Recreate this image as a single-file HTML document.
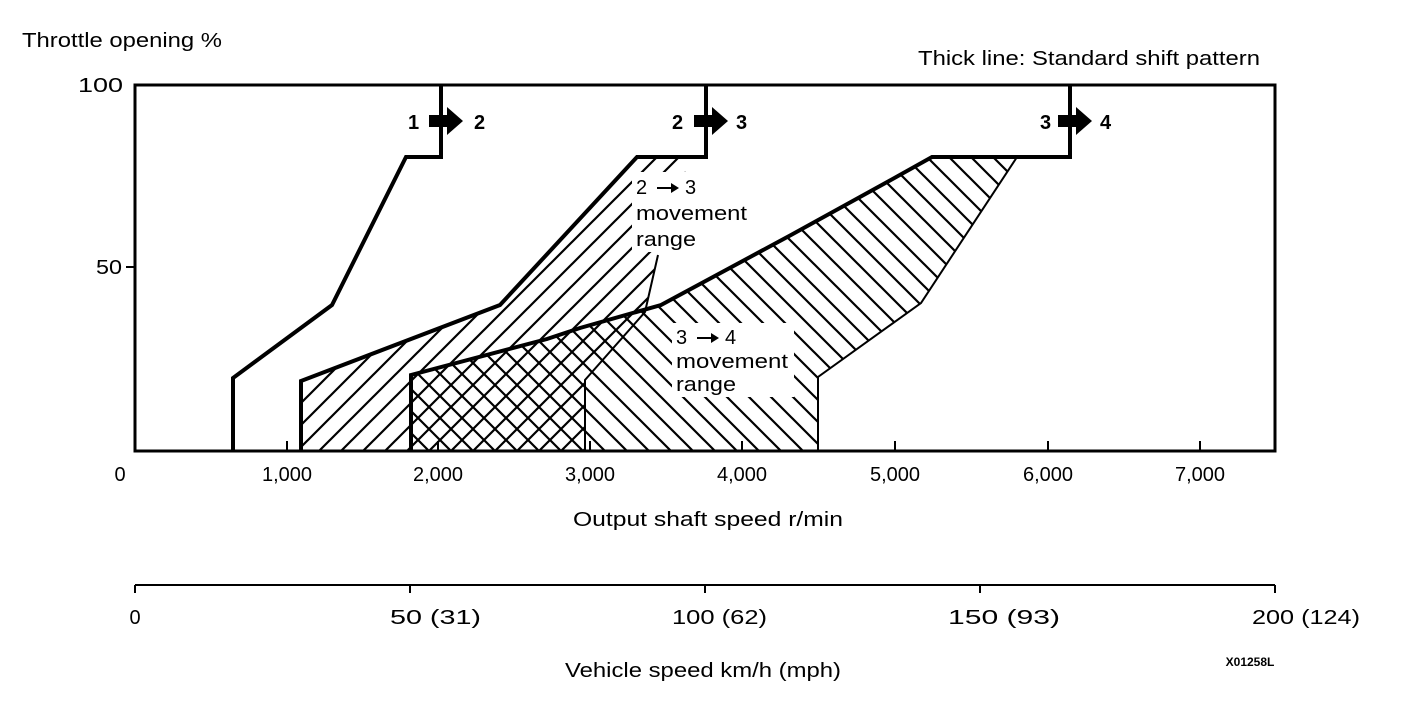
<!DOCTYPE html>
<html><head><style>
body{margin:0;background:#fff;}
svg text{font-family:"Liberation Sans",Arial,sans-serif;fill:#000;}
</style></head><body>
<svg width="1408" height="714" viewBox="0 0 1408 714" xmlns="http://www.w3.org/2000/svg">
<defs>
<pattern id="fw" patternUnits="userSpaceOnUse" width="22" height="22">
<path d="M-2,24 L24,-2 M-13,13 L13,-13 M9,35 L35,9" stroke="#000" stroke-width="2.2"/>
</pattern>
<pattern id="bw" patternUnits="userSpaceOnUse" width="22" height="22">
<path d="M-2,-2 L24,24 M-13,9 L13,35 M9,-13 L35,13" stroke="#000" stroke-width="2.2"/>
</pattern>
</defs>
<g font-size="20">
<text x="22" y="47" textLength="200" lengthAdjust="spacingAndGlyphs">Throttle opening %</text>
<text x="918" y="65" textLength="342" lengthAdjust="spacingAndGlyphs">Thick line: Standard shift pattern</text>
<text x="78" y="92" textLength="45" lengthAdjust="spacingAndGlyphs">100</text>
<text x="96" y="274" textLength="26" lengthAdjust="spacingAndGlyphs">50</text>
<text x="120" y="481" text-anchor="middle">0</text>
<text x="287" y="481" text-anchor="middle">1,000</text>
<text x="438" y="481" text-anchor="middle">2,000</text>
<text x="590" y="481" text-anchor="middle">3,000</text>
<text x="742" y="481" text-anchor="middle">4,000</text>
<text x="895" y="481" text-anchor="middle">5,000</text>
<text x="1048" y="481" text-anchor="middle">6,000</text>
<text x="1200" y="481" text-anchor="middle">7,000</text>
<text x="573" y="526" textLength="270" lengthAdjust="spacingAndGlyphs">Output shaft speed r/min</text>
<text x="135" y="624" text-anchor="middle">0</text>
<text x="390" y="624" textLength="91" lengthAdjust="spacingAndGlyphs">50 (31)</text>
<text x="672" y="624" textLength="95" lengthAdjust="spacingAndGlyphs">100 (62)</text>
<text x="948" y="624" textLength="112" lengthAdjust="spacingAndGlyphs">150 (93)</text>
<text x="1252" y="624" textLength="108" lengthAdjust="spacingAndGlyphs">200 (124)</text>
<text x="565" y="677" textLength="276" lengthAdjust="spacingAndGlyphs">Vehicle speed km/h (mph)</text>
</g>
<text x="1250" y="666" font-size="12" font-weight="bold" text-anchor="middle">X01258L</text>

<polygon points="301,451 301,381 500,305 637,157 690,157 658,255 645,312 585,380 585,451" fill="url(#fw)"/>
<polygon points="411,451 411,375 547,339 580,328 661,305 791,235 889,181 932,157 1017,157 921,303 818,377 818,451" fill="url(#bw)"/>
<rect x="632" y="172" width="120" height="80" fill="#fff"/>
<rect x="672" y="323" width="122" height="74" fill="#fff"/>
<polyline points="658,255 645,312 585,380 585,451" fill="none" stroke="#000" stroke-width="2"/>
<polyline points="1017,157 921,303 818,377 818,451" fill="none" stroke="#000" stroke-width="2"/>
<rect x="135" y="85" width="1140" height="366" fill="none" stroke="#000" stroke-width="3"/>
<g stroke="#000" stroke-width="2">
<line x1="126" y1="267" x2="135" y2="267"/>
<line x1="287" y1="451" x2="287" y2="441"/><line x1="438" y1="451" x2="438" y2="441"/>
<line x1="590" y1="451" x2="590" y2="441"/><line x1="742" y1="451" x2="742" y2="441"/>
<line x1="895" y1="451" x2="895" y2="441"/><line x1="1048" y1="451" x2="1048" y2="441"/>
<line x1="1200" y1="451" x2="1200" y2="441"/>
<line x1="135" y1="585" x2="1275" y2="585"/>
<line x1="135" y1="585" x2="135" y2="593"/><line x1="410" y1="585" x2="410" y2="593"/>
<line x1="705" y1="585" x2="705" y2="593"/><line x1="980" y1="585" x2="980" y2="593"/>
<line x1="1275" y1="585" x2="1275" y2="593"/>
</g>
<g fill="none" stroke="#000" stroke-width="4">
<polyline points="233,451 233,378 332,305 406,157 441,157 441,85"/>
<polyline points="301,451 301,381 500,305 637,157 706,157 706,85"/>
<polyline points="411,451 411,375 547,339 580,328 661,305 791,235 889,181 932,157 1070,157 1070,85"/>
</g>
<g font-size="20" font-weight="bold">
<text x="408" y="129">1</text><text x="474" y="129">2</text>
<text x="672" y="129">2</text><text x="736" y="129">3</text>
<text x="1040" y="129">3</text><text x="1100" y="129">4</text>
</g>
<g fill="#000">
<path d="M429,115 h18 v-8 l16,14 l-16,14 v-8 h-18z"/>
<path d="M694,115 h18 v-8 l16,14 l-16,14 v-8 h-18z"/>
<path d="M1058,115 h18 v-8 l16,14 l-16,14 v-8 h-18z"/>
</g>
<g font-size="20">
<text x="636" y="194">2</text><path d="M657,187 h14 v-4 l8,5 l-8,5 v-4 h-14z" fill="#000"/><text x="685" y="194">3</text>
<text x="636" y="220" textLength="111" lengthAdjust="spacingAndGlyphs">movement</text>
<text x="636" y="246" textLength="60" lengthAdjust="spacingAndGlyphs">range</text>
<text x="676" y="344">3</text><path d="M697,337 h14 v-4 l8,5 l-8,5 v-4 h-14z" fill="#000"/><text x="725" y="344">4</text>
<text x="676" y="368" textLength="112" lengthAdjust="spacingAndGlyphs">movement</text>
<text x="676" y="391" textLength="60" lengthAdjust="spacingAndGlyphs">range</text>
</g>
</svg>
</body></html>
